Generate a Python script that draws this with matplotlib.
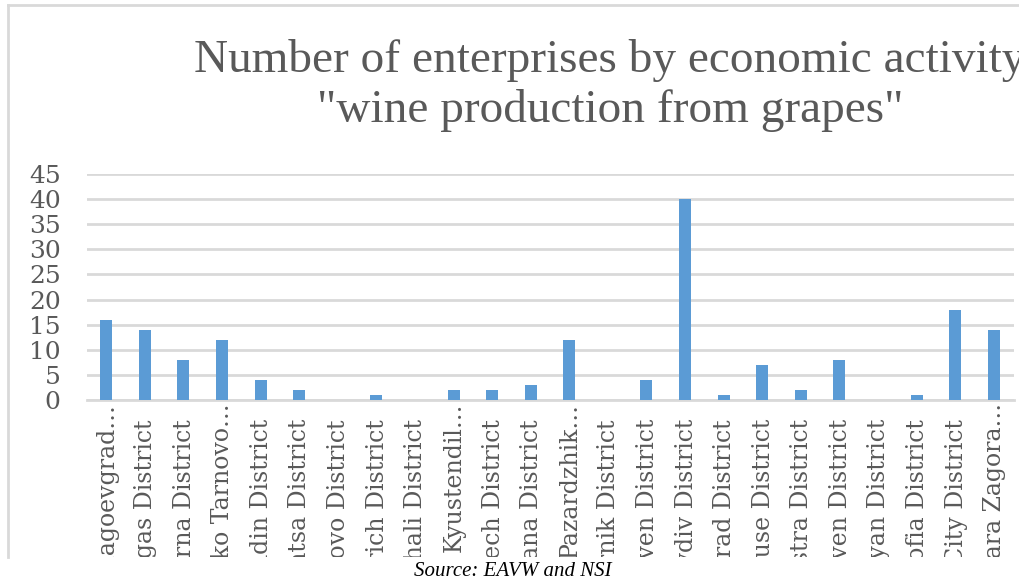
import matplotlib.pyplot as plt
from matplotlib.lines import Line2D
from matplotlib.transforms import Bbox, TransformedBbox

districts = ['Blagoevgrad…', 'Burgas District', 'Varna District', 'Veliko Tarnovo…',
             'Vidin District', 'Vratsa District', 'Gabrovo District', 'Dobrich District',
             'Kardzhali District', 'Kyustendil…', 'Lovech District', 'Montana District',
             'Pazardzhik…', 'Pernik District', 'Pleven District', 'Plovdiv District',
             'Razgrad District', 'Ruse District', 'Silistra District', 'Sliven District',
             'Smolyan District', 'Sofia District', 'Sofia City District', 'Stara Zagora…']
enterprises = [16, 14, 8, 12, 4, 2, 0, 1, 0, 2, 2, 3, 12, 0, 4, 40, 1, 7, 2, 8, 0, 1, 18, 14]
yticks = [0, 5, 10, 15, 20, 25, 30, 35, 40, 45]

plt.rcParams['font.family'] = ['DejaVu Serif']
W, H = 1019, 584
fig = plt.figure(figsize=(W / 100, H / 100), dpi=100)

# plot area in pixels: left 87, right 1014, top 174, bottom 400
ax = fig.add_axes([87 / W, (H - 400) / H, (1014 - 87) / W, (400 - 174) / H])
x = list(range(len(districts)))
ax.bar(x, enterprises, width=0.31, color='#5b9bd5', zorder=3)
ax.set_xlim(-0.5, 23.5 + (1014 - 1013) / 38.6)
ax.set_ylim(0, 45)
ax.set_yticks(yticks)
ax.grid(axis='y', color='#d9d9d9', linewidth=2, zorder=0)
for s in ['top', 'right', 'left']:
    ax.spines[s].set_visible(False)
ax.spines['bottom'].set_color('#d9d9d9')
ax.spines['bottom'].set_linewidth(2)
ax.tick_params(axis='both', length=0, colors='#595959')
ax.tick_params(axis='y', labelsize=18, pad=19)
ax.set_xticks(x)
ax.set_xticklabels([])

# category labels, cut off at the bottom edge of the chart frame
clip = TransformedBbox(Bbox([[0, (H - 557) / H], [1, 1]]), fig.transFigure)
for i, name in enumerate(districts):
    off = 3 if name.endswith('…') else 19
    t = ax.annotate(name, xy=(i, 0), xycoords=('data', 'axes fraction'),
                    xytext=(1, -off), textcoords='offset pixels', rotation=90,
                    ha='center', va='top', fontsize=17, color='#595959',
                    annotation_clip=False)
    t.set_clip_on(True)
    t.set_clip_box(clip)

title_kw = dict(ha='center', va='baseline', fontsize=34, color='#595959',
                family='Liberation Serif')
fig.text(610 / W, 1 - 72 / H, 'Number of enterprises by economic activity', **title_kw)
fig.text(610 / W, 1 - 122 / H, '"wine production from grapes"', **title_kw)

# chart frame (left and top edges visible)
fig.add_artist(Line2D([8 / W, 8 / W], [1 - 557 / H, 1 - 5 / H], transform=fig.transFigure,
                      color='#d9d9d9', linewidth=2))
fig.add_artist(Line2D([8 / W, 1], [1 - 5 / H, 1 - 5 / H], transform=fig.transFigure,
                      color='#d9d9d9', linewidth=2))

fig.text(513 / W, 1 - 572 / H, 'Source: EAVW and NSI', ha='center', va='center',
         fontsize=15, style='italic', color='black', family='Liberation Serif')

fig.savefig('out.png', dpi=100)
